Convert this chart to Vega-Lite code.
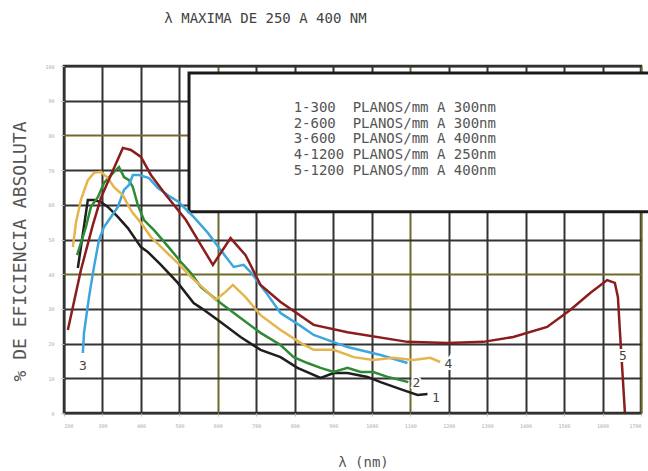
{
  "$schema": "https://vega.github.io/schema/vega-lite/v6.json",
  "width": 577,
  "height": 347,
  "autosize": {"type": "none"},
  "padding": {"left": 64, "top": 66, "right": 7, "bottom": 58},
  "background": "white",
  "title": {
    "text": "λ MAXIMA DE 250 A 400 NM",
    "font": "DejaVu Sans Mono",
    "fontSize": 14,
    "fontWeight": "normal",
    "color": "#444",
    "anchor": "middle",
    "dx": -87,
    "offset": 38
  },
  "config": {
    "view": {"stroke": "#2a2a2a", "strokeWidth": 2.5},
    "axis": {
      "labelFont": "DejaVu Sans Mono",
      "labelFontSize": 5,
      "labelColor": "#aaa",
      "labelOverlap": false,
      "tickColor": "#bbb",
      "tickSize": 3,
      "labelPadding": 7,
      "domain": false,
      "gridWidth": 2,
      "gridOpacity": 1,
      "titleFont": "DejaVu Sans Mono",
      "titleFontWeight": "normal",
      "titleColor": "#555"
    }
  },
  "datasets": {
    "curves": [
      {"curve": "1", "nm": 236, "eff": 41.8},
      {"curve": "1", "nm": 262, "eff": 61.4},
      {"curve": "1", "nm": 278, "eff": 61.4},
      {"curve": "1", "nm": 296, "eff": 60.8},
      {"curve": "1", "nm": 314, "eff": 59.4},
      {"curve": "1", "nm": 340, "eff": 56.5},
      {"curve": "1", "nm": 366, "eff": 53.3},
      {"curve": "1", "nm": 400, "eff": 47.8},
      {"curve": "1", "nm": 418, "eff": 46.4},
      {"curve": "1", "nm": 452, "eff": 42.7},
      {"curve": "1", "nm": 496, "eff": 37.5},
      {"curve": "1", "nm": 537, "eff": 31.7},
      {"curve": "1", "nm": 556, "eff": 30.3},
      {"curve": "1", "nm": 600, "eff": 26.8},
      {"curve": "1", "nm": 659, "eff": 21.9},
      {"curve": "1", "nm": 711, "eff": 18.2},
      {"curve": "1", "nm": 763, "eff": 16.1},
      {"curve": "1", "nm": 807, "eff": 13.0},
      {"curve": "1", "nm": 867, "eff": 10.1},
      {"curve": "1", "nm": 901, "eff": 11.5},
      {"curve": "1", "nm": 937, "eff": 11.5},
      {"curve": "1", "nm": 989, "eff": 10.4},
      {"curve": "1", "nm": 1023, "eff": 8.9},
      {"curve": "1", "nm": 1082, "eff": 6.6},
      {"curve": "1", "nm": 1119, "eff": 5.2},
      {"curve": "1", "nm": 1145, "eff": 5.5},

      {"curve": "2", "nm": 234, "eff": 45.5},
      {"curve": "2", "nm": 257, "eff": 53.6},
      {"curve": "2", "nm": 270, "eff": 59.4},
      {"curve": "2", "nm": 288, "eff": 62.2},
      {"curve": "2", "nm": 304, "eff": 66.3},
      {"curve": "2", "nm": 330, "eff": 69.5},
      {"curve": "2", "nm": 343, "eff": 70.9},
      {"curve": "2", "nm": 356, "eff": 68.0},
      {"curve": "2", "nm": 369, "eff": 67.1},
      {"curve": "2", "nm": 379, "eff": 65.1},
      {"curve": "2", "nm": 392, "eff": 59.9},
      {"curve": "2", "nm": 408, "eff": 55.6},
      {"curve": "2", "nm": 434, "eff": 52.7},
      {"curve": "2", "nm": 452, "eff": 50.4},
      {"curve": "2", "nm": 478, "eff": 47.0},
      {"curve": "2", "nm": 504, "eff": 43.5},
      {"curve": "2", "nm": 530, "eff": 40.3},
      {"curve": "2", "nm": 556, "eff": 36.3},
      {"curve": "2", "nm": 607, "eff": 31.7},
      {"curve": "2", "nm": 659, "eff": 27.4},
      {"curve": "2", "nm": 711, "eff": 23.1},
      {"curve": "2", "nm": 763, "eff": 19.6},
      {"curve": "2", "nm": 797, "eff": 16.1},
      {"curve": "2", "nm": 833, "eff": 14.4},
      {"curve": "2", "nm": 867, "eff": 13.0},
      {"curve": "2", "nm": 901, "eff": 11.8},
      {"curve": "2", "nm": 937, "eff": 13.0},
      {"curve": "2", "nm": 971, "eff": 11.8},
      {"curve": "2", "nm": 1004, "eff": 11.8},
      {"curve": "2", "nm": 1041, "eff": 10.4},
      {"curve": "2", "nm": 1075, "eff": 9.5},
      {"curve": "2", "nm": 1095, "eff": 8.9},

      {"curve": "3", "nm": 249, "eff": 17.3},
      {"curve": "3", "nm": 252, "eff": 23.1},
      {"curve": "3", "nm": 265, "eff": 33.4},
      {"curve": "3", "nm": 278, "eff": 42.1},
      {"curve": "3", "nm": 291, "eff": 49.9},
      {"curve": "3", "nm": 304, "eff": 53.6},
      {"curve": "3", "nm": 322, "eff": 56.5},
      {"curve": "3", "nm": 340, "eff": 59.4},
      {"curve": "3", "nm": 356, "eff": 64.3},
      {"curve": "3", "nm": 369, "eff": 65.7},
      {"curve": "3", "nm": 379, "eff": 68.6},
      {"curve": "3", "nm": 395, "eff": 68.6},
      {"curve": "3", "nm": 421, "eff": 67.7},
      {"curve": "3", "nm": 444, "eff": 64.8},
      {"curve": "3", "nm": 478, "eff": 62.2},
      {"curve": "3", "nm": 498, "eff": 60.8},
      {"curve": "3", "nm": 537, "eff": 56.5},
      {"curve": "3", "nm": 574, "eff": 51.9},
      {"curve": "3", "nm": 607, "eff": 47.0},
      {"curve": "3", "nm": 641, "eff": 42.1},
      {"curve": "3", "nm": 667, "eff": 42.7},
      {"curve": "3", "nm": 685, "eff": 40.6},
      {"curve": "3", "nm": 724, "eff": 34.9},
      {"curve": "3", "nm": 763, "eff": 28.8},
      {"curve": "3", "nm": 815, "eff": 25.1},
      {"curve": "3", "nm": 849, "eff": 22.5},
      {"curve": "3", "nm": 937, "eff": 19.0},
      {"curve": "3", "nm": 1023, "eff": 16.7},
      {"curve": "3", "nm": 1093, "eff": 14.4},

      {"curve": "4", "nm": 223, "eff": 47.8},
      {"curve": "4", "nm": 231, "eff": 54.8},
      {"curve": "4", "nm": 244, "eff": 61.4},
      {"curve": "4", "nm": 262, "eff": 67.1},
      {"curve": "4", "nm": 278, "eff": 69.2},
      {"curve": "4", "nm": 296, "eff": 69.5},
      {"curve": "4", "nm": 314, "eff": 67.7},
      {"curve": "4", "nm": 330, "eff": 65.1},
      {"curve": "4", "nm": 353, "eff": 62.8},
      {"curve": "4", "nm": 369, "eff": 59.4},
      {"curve": "4", "nm": 379, "eff": 57.6},
      {"curve": "4", "nm": 400, "eff": 54.8},
      {"curve": "4", "nm": 426, "eff": 50.7},
      {"curve": "4", "nm": 460, "eff": 47.0},
      {"curve": "4", "nm": 496, "eff": 43.2},
      {"curve": "4", "nm": 530, "eff": 39.2},
      {"curve": "4", "nm": 568, "eff": 35.4},
      {"curve": "4", "nm": 594, "eff": 32.6},
      {"curve": "4", "nm": 620, "eff": 34.9},
      {"curve": "4", "nm": 639, "eff": 36.9},
      {"curve": "4", "nm": 672, "eff": 33.4},
      {"curve": "4", "nm": 711, "eff": 28.2},
      {"curve": "4", "nm": 763, "eff": 23.9},
      {"curve": "4", "nm": 815, "eff": 20.2},
      {"curve": "4", "nm": 849, "eff": 18.2},
      {"curve": "4", "nm": 901, "eff": 18.2},
      {"curve": "4", "nm": 953, "eff": 16.1},
      {"curve": "4", "nm": 1004, "eff": 15.3},
      {"curve": "4", "nm": 1056, "eff": 15.9},
      {"curve": "4", "nm": 1108, "eff": 15.3},
      {"curve": "4", "nm": 1152, "eff": 15.9},
      {"curve": "4", "nm": 1178, "eff": 14.7},

      {"curve": "5", "nm": 210, "eff": 23.9},
      {"curve": "5", "nm": 244, "eff": 41.2},
      {"curve": "5", "nm": 275, "eff": 54.2},
      {"curve": "5", "nm": 296, "eff": 62.0},
      {"curve": "5", "nm": 322, "eff": 68.6},
      {"curve": "5", "nm": 353, "eff": 76.4},
      {"curve": "5", "nm": 374, "eff": 75.8},
      {"curve": "5", "nm": 400, "eff": 73.8},
      {"curve": "5", "nm": 426, "eff": 68.6},
      {"curve": "5", "nm": 465, "eff": 62.8},
      {"curve": "5", "nm": 517, "eff": 55.6},
      {"curve": "5", "nm": 556, "eff": 48.4},
      {"curve": "5", "nm": 587, "eff": 42.7},
      {"curve": "5", "nm": 633, "eff": 50.4},
      {"curve": "5", "nm": 672, "eff": 45.5},
      {"curve": "5", "nm": 711, "eff": 36.9},
      {"curve": "5", "nm": 763, "eff": 32.0},
      {"curve": "5", "nm": 849, "eff": 25.4},
      {"curve": "5", "nm": 937, "eff": 23.3},
      {"curve": "5", "nm": 1093, "eff": 20.5},
      {"curve": "5", "nm": 1197, "eff": 20.2},
      {"curve": "5", "nm": 1290, "eff": 20.5},
      {"curve": "5", "nm": 1368, "eff": 21.9},
      {"curve": "5", "nm": 1456, "eff": 24.8},
      {"curve": "5", "nm": 1516, "eff": 29.7},
      {"curve": "5", "nm": 1568, "eff": 34.6},
      {"curve": "5", "nm": 1612, "eff": 38.3},
      {"curve": "5", "nm": 1632, "eff": 37.5},
      {"curve": "5", "nm": 1640, "eff": 33.4},
      {"curve": "5", "nm": 1645, "eff": 23.9},
      {"curve": "5", "nm": 1653, "eff": 9.5},
      {"curve": "5", "nm": 1658, "eff": 0.3}
    ],
    "box": [{"nm": 525, "nm2": 1725, "eff": 58, "eff2": 98}],
    "legendText": [
      {"label": "1-300\u00a0\u00a0PLANOS/mm A 300nm", "nm": 797, "eff": 87.9},
      {"label": "2-600\u00a0\u00a0PLANOS/mm A 300nm", "nm": 797, "eff": 83.3},
      {"label": "3-600\u00a0\u00a0PLANOS/mm A 400nm", "nm": 797, "eff": 79.0},
      {"label": "4-1200 PLANOS/mm A 250nm", "nm": 797, "eff": 74.4},
      {"label": "5-1200 PLANOS/mm A 400nm", "nm": 797, "eff": 69.7}
    ],
    "curveLabels": [
      {"label": "1", "nm": 1167, "eff": 4.3},
      {"label": "2", "nm": 1116, "eff": 8.6},
      {"label": "3", "nm": 249, "eff": 13.5},
      {"label": "4", "nm": 1199, "eff": 14.1},
      {"label": "5", "nm": 1653, "eff": 16.4}
    ]
  },
  "encoding": {
    "x": {
      "field": "nm", "type": "quantitative",
      "scale": {"domain": [200, 1700], "nice": false, "zero": false},
      "axis": {
        "values": [200, 300, 400, 500, 600, 700, 800, 900, 1000, 1100, 1200, 1300, 1400, 1500, 1600, 1700],
        "tickCount": 16,
        "format": "d",
        "grid": true,
        "gridColor": {"condition": {"test": "datum.value === 600 || datum.value === 1100 || datum.value === 1700", "value": "#6e6a2a"}, "value": "#333"},
        "title": "λ (nm)",
        "titleFontSize": 14,
        "titleX": 299,
        "titleY": 49,
        "titleBaseline": "middle",
        "titleAlign": "center"
      }
    },
    "y": {
      "field": "eff", "type": "quantitative",
      "scale": {"domain": [0, 100], "nice": false},
      "axis": {
        "values": [0, 10, 20, 30, 40, 50, 60, 70, 80, 90, 100],
        "tickCount": 11,
        "grid": true,
        "gridColor": {"condition": {"test": "datum.value === 80 || datum.value === 40", "value": "#6e6a2a"}, "value": "#333"},
        "title": "% DE EFICIENCIA ABSOLUTA",
        "titleFontSize": 18,
        "titleAngle": -90,
        "titleX": -44,
        "titleY": 185,
        "titleAlign": "center",
        "titleBaseline": "middle"
      }
    }
  },
  "layer": [
    {
      "data": {"name": "box"},
      "mark": {"type": "rect", "fill": "white", "stroke": "#1a1a1a", "strokeWidth": 3},
      "encoding": {
        "x2": {"field": "nm2"},
        "y2": {"field": "eff2"}
      }
    },
    {
      "data": {"name": "legendText"},
      "mark": {"type": "text", "font": "DejaVu Sans Mono", "fontSize": 14, "color": "#555", "align": "left", "baseline": "middle"},
      "encoding": {
        "text": {"field": "label"}
      }
    },
    {
      "data": {"name": "curves"},
      "mark": {"type": "line", "strokeWidth": 2.5, "interpolate": "linear"},
      "encoding": {
        "color": {
          "field": "curve", "type": "nominal",
          "scale": {"domain": ["1", "2", "3", "4", "5"], "range": ["#1e1e1e", "#2e8b34", "#3ea6de", "#e6b44c", "#8b1d1d"]},
          "legend": null
        }
      }
    },
    {
      "data": {"name": "curveLabels"},
      "mark": {"type": "text", "font": "DejaVu Sans Mono", "fontSize": 13, "stroke": "white", "strokeWidth": 4, "color": "white", "align": "center", "baseline": "middle"},
      "encoding": {
        "text": {"field": "label"}
      }
    },
    {
      "data": {"name": "curveLabels"},
      "mark": {"type": "text", "font": "DejaVu Sans Mono", "fontSize": 13, "color": "#444", "align": "center", "baseline": "middle"},
      "encoding": {
        "text": {"field": "label"}
      }
    }
  ]
}
